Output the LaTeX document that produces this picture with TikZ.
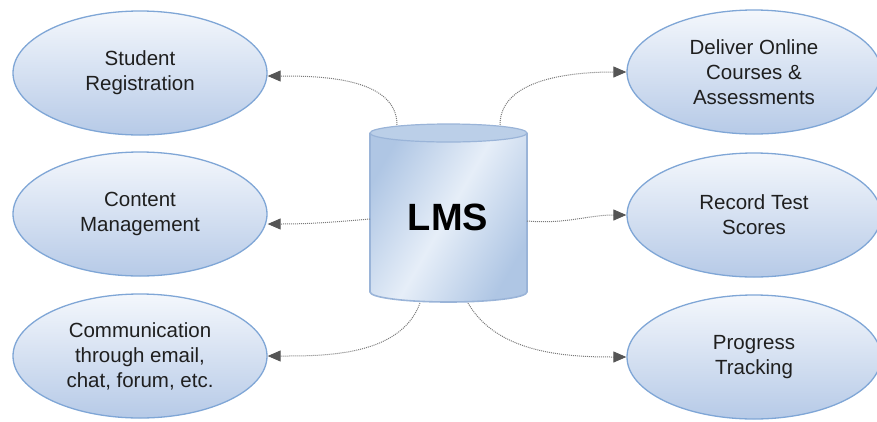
\documentclass[tikz,border=0pt]{standalone}
\usepackage{fontspec}
\setmainfont{Liberation Sans}
\usetikzlibrary{arrows.meta,shapes.geometric}
\definecolor{ebord}{HTML}{7FA6D6}
\definecolor{etop}{HTML}{F4F7FC}
\definecolor{ebot}{HTML}{B6CAE7}
\definecolor{cyl}{HTML}{AFC6E4}
\definecolor{cylmid}{HTML}{E6EEF8}
\definecolor{cylbord}{HTML}{9AB4D8}
\definecolor{link}{HTML}{7A7A7A}
\definecolor{tip}{HTML}{555555}
\tikzset{
  x=1pt, y=1pt,
  oval/.style={ellipse, draw=ebord, line width=1.3pt, top color=etop, bottom color=ebot,
    minimum width=254pt, minimum height=124pt, align=center, inner sep=0pt,
    font=\fontsize{20.5}{25}\selectfont, text=black!88},
  link/.style={draw=link, line width=1pt, dash pattern=on 1pt off 1pt,
    -{Triangle[length=13pt,width=11pt,color=tip]}}
}
\begin{document}
\begin{tikzpicture}
\useasboundingbox (0,0) rectangle (877,-421);
% ellipses
\node[oval] (sr) at (140,-73) {Student\\Registration};
\node[oval] (cm) at (140,-214) {Content\\Management};
\node[oval] (cc) at (140,-356) {Communication\\through email,\\chat, forum, etc.};
\node[oval] (dl) at (754,-72) {Deliver Online\\Courses \&\\Assessments};
\node[oval] (rt) at (754,-215) {Record Test\\Scores};
\node[oval] (pt) at (754,-357) {Progress\\Tracking};
% cylinder
\path[left color=cyl, right color=cyl, middle color=cylmid, shading angle=60]
  (370,-133) -- (370,-292) arc[start angle=180,end angle=360,x radius=78.5,y radius=10]
  -- (527,-133) arc[start angle=0,end angle=180,x radius=78.5,y radius=9] -- cycle;
\draw[cylbord, line width=1.6pt]
  (370,-133) -- (370,-292) arc[start angle=180,end angle=360,x radius=78.5,y radius=10]
  -- (527,-133);
\draw[cylbord, line width=1.2pt, fill=cyl!85!white] (448.5,-133) ellipse[x radius=78.5, y radius=9];
\node[font=\bfseries\fontsize{38}{40}\selectfont] (lms) at (448,-217) {LMS};
\coordinate (ctl) at (397,-125);
\coordinate (ctr) at (500,-125);
\coordinate (cl) at (370,-219);
\coordinate (cr) at (527,-221);
\coordinate (cbl) at (420,-303);
\coordinate (cbr) at (468,-303);
% connectors
\draw[link] (ctl) to[out=90,in=0,looseness=0.9] ([yshift=-3pt]sr.east);
\draw[link] (ctr) to[out=90,in=180,looseness=0.9] (dl.west);
\draw[link] (cl) to[out=185,in=0] ([yshift=-10pt]cm.east);
\draw[link] (cr) to[out=-5,in=180] (rt.west);
\draw[link] (cbl) to[out=-110,in=0,looseness=0.9] (cc.east);
\draw[link] (cbr) to[out=-60,in=180,looseness=0.9] (pt.west);
\end{tikzpicture}
\end{document}
